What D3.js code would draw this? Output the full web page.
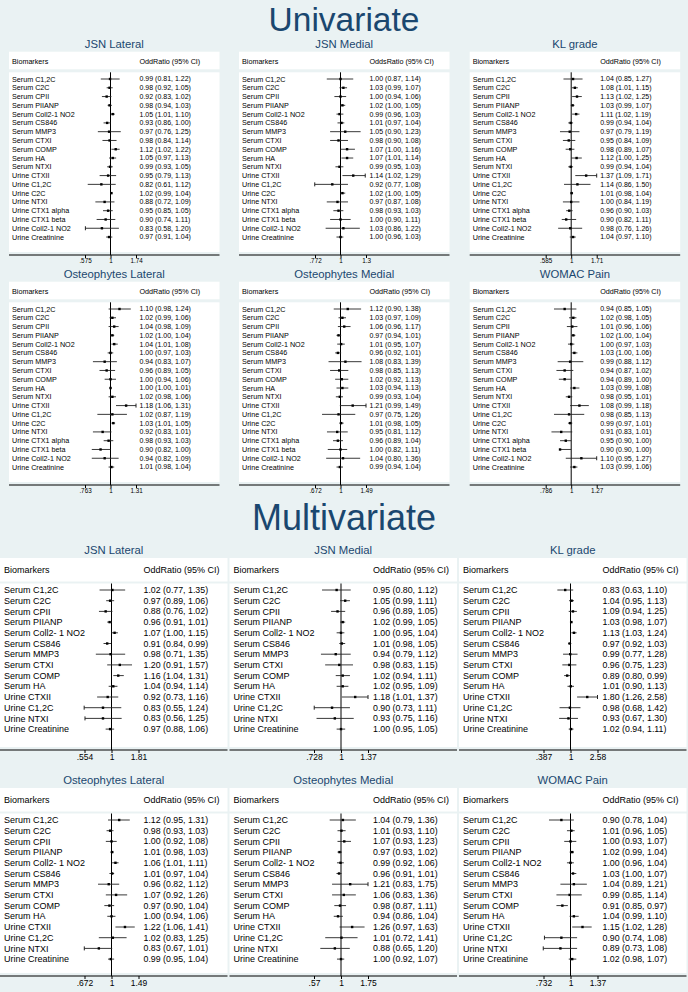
<!DOCTYPE html>
<html><head><meta charset="utf-8">
<script src="https://cdn.jsdelivr.net/npm/d3@7"></script>
<style>html,body{margin:0;padding:0;background:#eaf2f3;} svg{display:block}</style>
</head><body><div id="chart"></div>
<script>
// ---------------- DATA ----------------
const outcomes = ["JSN Lateral","JSN Medial","KL grade","Osteophytes Lateral","Osteophytes Medial","WOMAC Pain"];

const univLabels = ["Serum C1,2C","Serum C2C","Serum CPII","Serum PIIANP","Serum Coll2-1 NO2","Serum CS846","Serum MMP3","Serum CTXI","Serum COMP","Serum HA","Serum NTXI","Urine CTXII","Urine C1,2C","Urine C2C","Urine NTXI","Urine CTX1 alpha","Urine CTX1 beta","Urine Coll2-1 NO2","Urine Creatinine"];
const multiLabels = ["Serum C1,2C","Serum C2C","Serum CPII","Serum PIIANP","Serum Coll2- 1 NO2","Serum CS846","Serum MMP3","Serum CTXI","Serum COMP","Serum HA","Urine CTXII","Urine C1,2C","Urine NTXI","Urine Creatinine"];
const multiLabelsWomac = ["Serum C1,2C","Serum C2C","Serum CPII","Serum PIIANP","Serum Coll2-1 NO2","Serum CS846","Serum MMP3","Serum CTXI","Serum COMP","Serum HA","Urine CTXII","Urine C1,2C","Urine NTXI","Urine Creatinine"];

const univHeaders = ["OddRatio (95% CI)","OddsRatio (95% CI)","OddRatio (95% CI)","OddRatio (95% CI)","OddRatio (95% CI)","OddRatio (95% CI)"];
const multiHeaders = ["OddRatio (95% CI)","OddRatio (95% CI)","OddRatio (95% CI)","OddRatio (95% CI)","OddRatio (95% CI)","OddRatio (95% CI)"];

// [odds ratio, lower, upper]
const uJsnLateral = [[0.99,0.81,1.22],[0.98,0.92,1.05],[0.92,0.83,1.02],[0.98,0.94,1.03],[1.05,1.01,1.10],[0.93,0.86,1.00],[0.97,0.76,1.25],[0.98,0.84,1.14],[1.12,1.02,1.22],[1.05,0.97,1.13],[0.99,0.93,1.05],[0.95,0.79,1.13],[0.82,0.61,1.12],[1.02,0.99,1.04],[0.88,0.72,1.09],[0.95,0.85,1.05],[0.90,0.74,1.11],[0.83,0.58,1.20],[0.97,0.91,1.04]];
const uJsnMedial = [[1.00,0.87,1.14],[1.03,0.99,1.07],[1.00,0.94,1.06],[1.02,1.00,1.05],[0.99,0.96,1.03],[1.01,0.97,1.04],[1.05,0.90,1.23],[0.98,0.90,1.08],[1.07,1.00,1.16],[1.07,1.01,1.14],[0.99,0.95,1.03],[1.14,1.02,1.29],[0.92,0.77,1.08],[1.02,1.00,1.05],[0.97,0.87,1.08],[0.98,0.93,1.03],[1.00,0.90,1.11],[1.03,0.86,1.22],[1.00,0.96,1.03]];
const uKlGrade = [[1.04,0.85,1.27],[1.08,1.01,1.15],[1.13,1.02,1.25],[1.03,0.99,1.07],[1.11,1.02,1.19],[0.99,0.94,1.04],[0.97,0.79,1.19],[0.95,0.84,1.09],[0.98,0.89,1.07],[1.12,1.00,1.25],[0.99,0.94,1.04],[1.37,1.09,1.71],[1.14,0.86,1.50],[1.01,0.98,1.04],[1.00,0.84,1.19],[0.96,0.90,1.03],[0.90,0.82,1.11],[0.98,0.76,1.26],[1.04,0.97,1.10]];
const uOstLateral = [[1.10,0.98,1.24],[1.02,0.99,1.06],[1.04,0.98,1.09],[1.02,1.00,1.04],[1.04,1.01,1.08],[1.00,0.97,1.03],[0.94,0.83,1.07],[0.96,0.89,1.05],[1.00,0.94,1.06],[1.00,1.00,1.01],[1.02,0.98,1.06],[1.18,1.06,1.31],[1.02,0.87,1.19],[1.03,1.01,1.05],[0.92,0.83,1.01],[0.98,0.93,1.03],[0.90,0.82,1.00],[0.94,0.82,1.09],[1.01,0.98,1.04]];
const uOstMedial = [[1.12,0.90,1.38],[1.03,0.97,1.09],[1.06,0.96,1.17],[0.97,0.94,1.01],[1.01,0.95,1.07],[0.96,0.92,1.01],[1.08,0.83,1.39],[0.98,0.85,1.13],[1.02,0.92,1.13],[1.03,0.94,1.13],[0.99,0.93,1.04],[1.21,0.99,1.49],[0.97,0.75,1.26],[1.01,0.98,1.05],[0.95,0.81,1.12],[0.96,0.89,1.04],[1.00,0.82,1.11],[1.04,0.80,1.36],[0.99,0.94,1.04]];
const uWomacPain = [[0.94,0.85,1.05],[1.02,0.98,1.05],[1.01,0.96,1.06],[1.02,1.00,1.04],[1.00,0.97,1.03],[1.03,1.00,1.06],[0.99,0.88,1.12],[0.94,0.87,1.02],[0.94,0.89,1.00],[1.03,0.99,1.08],[0.98,0.95,1.01],[1.08,0.99,1.18],[0.98,0.85,1.13],[0.99,0.97,1.01],[0.91,0.83,1.01],[0.95,0.90,1.00],[0.90,0.90,1.00],[1.10,0.95,1.27],[1.03,0.99,1.06]];

const mJsnLateral = [[1.02,0.77,1.35],[0.97,0.89,1.06],[0.88,0.76,1.02],[0.96,0.91,1.01],[1.07,1.00,1.15],[0.91,0.84,0.99],[0.98,0.71,1.35],[1.20,0.91,1.57],[1.16,1.04,1.31],[1.04,0.94,1.14],[0.92,0.73,1.16],[0.83,0.55,1.24],[0.83,0.56,1.25],[0.97,0.88,1.06]];
const mJsnMedial = [[0.95,0.80,1.12],[1.05,0.99,1.11],[0.96,0.89,1.05],[1.02,0.99,1.05],[1.00,0.95,1.04],[1.01,0.98,1.05],[0.94,0.79,1.12],[0.98,0.83,1.15],[1.02,0.94,1.11],[1.02,0.95,1.09],[1.18,1.01,1.37],[0.90,0.73,1.11],[0.93,0.75,1.16],[1.00,0.95,1.05]];
const mKlGrade = [[0.83,0.63,1.10],[1.04,0.95,1.13],[1.09,0.94,1.25],[1.03,0.98,1.07],[1.13,1.03,1.24],[0.97,0.92,1.03],[0.99,0.77,1.28],[0.96,0.75,1.23],[0.89,0.80,0.99],[1.01,0.90,1.13],[1.80,1.26,2.58],[0.98,0.68,1.42],[0.93,0.67,1.30],[1.02,0.94,1.11]];
const mOstLateral = [[1.12,0.95,1.31],[0.98,0.93,1.03],[1.00,0.92,1.08],[1.01,0.98,1.03],[1.06,1.01,1.11],[1.01,0.97,1.04],[0.96,0.82,1.12],[1.07,0.92,1.26],[0.97,0.90,1.04],[1.00,0.94,1.06],[1.22,1.06,1.41],[1.02,0.83,1.25],[0.83,0.67,1.01],[0.99,0.95,1.04]];
const mOstMedial = [[1.04,0.79,1.36],[1.01,0.93,1.10],[1.07,0.93,1.23],[0.97,0.93,1.02],[0.99,0.92,1.06],[0.96,0.91,1.01],[1.21,0.83,1.75],[1.06,0.83,1.36],[0.98,0.87,1.11],[0.94,0.86,1.04],[1.26,0.97,1.63],[1.01,0.72,1.41],[0.88,0.65,1.20],[1.00,0.92,1.07]];
const mWomacPain = [[0.90,0.78,1.04],[1.01,0.96,1.05],[1.00,0.93,1.07],[1.02,0.99,1.04],[1.00,0.96,1.04],[1.03,1.00,1.07],[1.04,0.89,1.21],[0.99,0.85,1.14],[0.91,0.85,0.97],[1.04,0.99,1.10],[1.15,1.02,1.28],[0.90,0.74,1.08],[0.89,0.73,1.08],[1.02,0.98,1.07]];

const univTicks = [[0.575,1,1.74],[0.772,1,1.3],[0.585,1,1.71],[0.763,1,1.31],[0.672,1,1.49],[0.786,1,1.27]];
const multiTicks = [[0.554,1,1.81],[0.728,1,1.37],[0.387,1,2.58],[0.672,1,1.49],[0.57,1,1.75],[0.732,1,1.37]];

const univData = [uJsnLateral,uJsnMedial,uKlGrade,uOstLateral,uOstMedial,uWomacPain];
const multiData = [mJsnLateral,mJsnMedial,mKlGrade,mOstLateral,mOstMedial,mWomacPain];
const multiLabelSets = [multiLabels,multiLabels,multiLabels,multiLabels,multiLabels,multiLabelsWomac];

// ---------------- STYLE / LAYOUT ----------------
const W = 688, H = 992;
const BG = "#eaf2f3", NAVY = "#1a476f";
const FONT = "'Liberation Sans', Arial, Helvetica, sans-serif";

const svg = d3.select("#chart").append("svg").attr("width", W).attr("height", H)
  .style("font-family", FONT);
svg.append("rect").attr("width", W).attr("height", H).attr("fill", BG);

const fmt = d3.format(".2f");
const tickFmt = v => String(v).replace(/^0\./, ".");

svg.append("text").attr("x", 344).attr("y", 30.5).attr("text-anchor", "middle")
  .attr("font-size", 33.5).attr("fill", NAVY).text("Univariate");
svg.append("text").attr("x", 344).attr("y", 530).attr("text-anchor", "middle")
  .attr("font-size", 36).attr("fill", NAVY).text("Multivariate");

const uniLayout = {
  cellX: [9, 239, 469.7], width: 210.5, hy: [61, 291], axisY: [255, 485],
  step: 8.78, firstOff: 18, headTop: 9.3, headBot: 8.3, bodyTop: 11.3,
  titleOff: 13, fLabel: 7.2, fOR: 7, fTitle: 11.3, fTick: 6.3, fHead: 7.2,
  xLabel: 3, xOR: 130.5, xOne: 101.5, half: 25.5, tickLab: 8
};
const multiLayout = {
  cellX: [0, 229.5, 459], width: 227.5, hy: [570, 800], axisY: [750, 976],
  step: 10.7, firstOff: 20, headTop: 12, headBot: 11.5, bodyTop: 13.5,
  titleOff: 16, fLabel: 9, fOR: 8.8, fTitle: 11.3, fTick: 8.5, fHead: 9,
  xLabel: 4, xOR: 143.5, xOne: 111.5, half: 27, tickLab: 10
};

function drawPanel(L, i, title, header, labels, data, ticks) {
  const col = i % 3, row = Math.floor(i / 3);
  const x0 = L.cellX[col], hy = L.hy[row], axisY = L.axisY[row];
  const g = svg.append("g");

  // title
  g.append("text").attr("x", x0 + L.width / 2).attr("y", hy - L.titleOff)
    .attr("text-anchor", "middle").attr("font-size", L.fTitle).attr("fill", NAVY).text(title);

  // white boxes
  g.append("rect").attr("x", x0).attr("y", hy - L.headTop).attr("width", L.width)
    .attr("height", L.headTop + L.headBot).attr("fill", "#fff");
  g.append("rect").attr("x", x0).attr("y", hy + L.bodyTop).attr("width", L.width)
    .attr("height", axisY - 3 - (hy + L.bodyTop)).attr("fill", "#fff");

  // header
  g.append("text").attr("x", x0 + L.xLabel).attr("y", hy).attr("dy", "0.35em")
    .attr("font-size", L.fHead).text("Biomarkers");
  g.append("text").attr("x", x0 + L.xOR).attr("y", hy).attr("dy", "0.35em")
    .attr("font-size", L.fHead).text(header);

  // scales
  const xOne = x0 + L.xOne;
  const x = d3.scaleLog().domain([ticks[0], ticks[1], ticks[2]])
    .range([xOne - L.half, xOne, xOne + L.half]);
  const y = d3.scalePoint().domain(labels).range([hy + L.firstOff, hy + L.firstOff + L.step * (labels.length - 1)]);

  // reference line at 1
  g.append("line").attr("x1", x(1)).attr("x2", x(1)).attr("y1", hy + L.bodyTop).attr("y2", axisY)
    .attr("stroke", "#000").attr("stroke-width", 1);

  // axis
  g.append("line").attr("x1", x0).attr("x2", x0 + L.width).attr("y1", axisY).attr("y2", axisY)
    .attr("stroke", "#000").attr("stroke-width", 1);
  const ax = g.append("g").attr("transform", `translate(0,${axisY})`)
    .call(d3.axisBottom(x).tickValues(ticks).tickFormat(tickFmt).tickSize(3).tickPadding(1));
  ax.select(".domain").remove();
  ax.selectAll("text").attr("font-size", L.fTick).attr("font-family", FONT).attr("fill", "#000");
  ax.selectAll("line").attr("stroke", "#000");

  // rows
  const rows = labels.map((lab, k) => ({ lab, or: data[k][0], lo: data[k][1], hi: data[k][2] }));
  const rg = g.selectAll("g.row").data(rows).join("g").attr("class", "row");
  rg.append("text").attr("x", x0 + L.xLabel).attr("y", d => y(d.lab)).attr("dy", "0.35em")
    .attr("font-size", L.fLabel).text(d => d.lab);
  rg.append("text").attr("x", x0 + L.xOR).attr("y", d => y(d.lab)).attr("dy", "0.35em")
    .attr("font-size", L.fOR).text(d => `${fmt(d.or)} (${fmt(d.lo)}, ${fmt(d.hi)})`);
  rg.append("line").attr("x1", d => x(d.lo)).attr("x2", d => x(d.hi))
    .attr("y1", d => y(d.lab)).attr("y2", d => y(d.lab))
    .attr("stroke", "#222").attr("stroke-width", 0.9);
  rg.append("rect").attr("x", d => x(d.or) - 1.2).attr("y", d => y(d.lab) - 1.2)
    .attr("width", 2.4).attr("height", 2.4).attr("fill", "#000");
  // end caps where interval reaches the axis limits
  rg.filter(d => d.lo <= ticks[0] * 1.012).append("line")
    .attr("x1", d => x(d.lo)).attr("x2", d => x(d.lo))
    .attr("y1", d => y(d.lab) - 2).attr("y2", d => y(d.lab) + 2).attr("stroke", "#222");
  rg.filter(d => d.hi >= ticks[2] / 1.012).append("line")
    .attr("x1", d => x(d.hi)).attr("x2", d => x(d.hi))
    .attr("y1", d => y(d.lab) - 2).attr("y2", d => y(d.lab) + 2).attr("stroke", "#222");
}

outcomes.forEach((t, i) => drawPanel(uniLayout, i, t, univHeaders[i], univLabels, univData[i], univTicks[i]));
outcomes.forEach((t, i) => drawPanel(multiLayout, i, t, multiHeaders[i], multiLabelSets[i], multiData[i], multiTicks[i]));
</script>
</body></html>
